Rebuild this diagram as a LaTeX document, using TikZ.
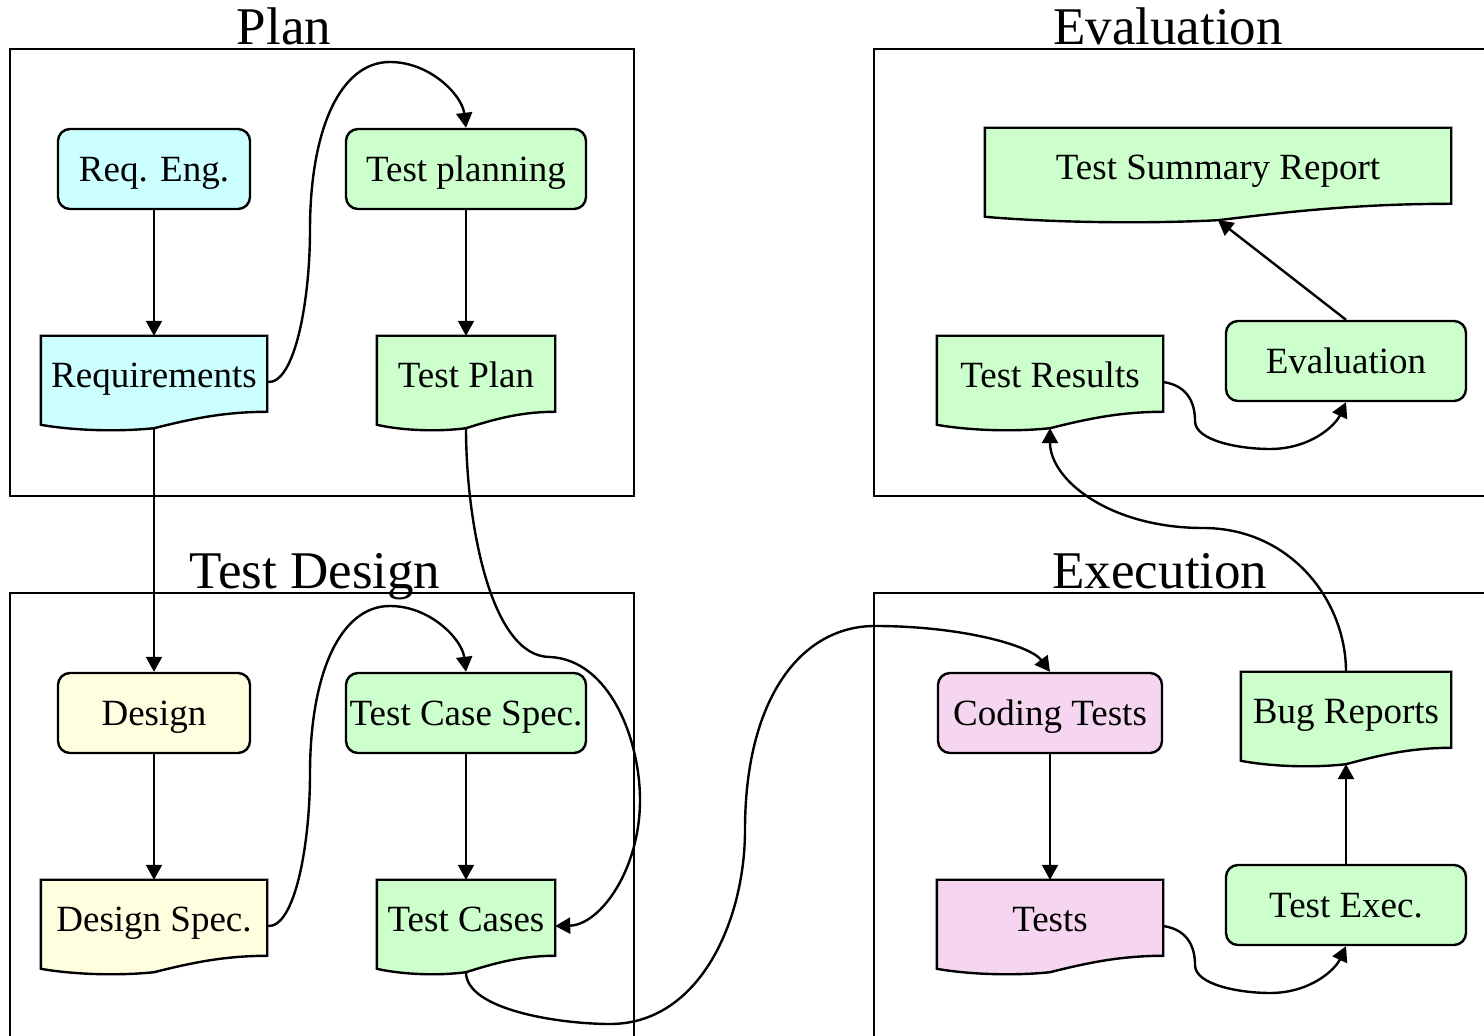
\documentclass[tikz,border=0pt]{standalone}
\usepackage{fontspec}
\setmainfont{Liberation Serif}
\usetikzlibrary{arrows.meta,calc,backgrounds}
\definecolor{reqcol}{HTML}{CCFFFF}
\definecolor{testcol}{HTML}{CCFFCC}
\definecolor{descol}{HTML}{FFFFE0}
\definecolor{codecol}{HTML}{F5D5EF}

\begin{document}
\begin{tikzpicture}[>={Triangle[length=7.5pt,width=8pt]},x=0.5pt,y=-0.5pt,
                    line width=1.2pt,node distance=106.5pt,
                    font=\fontsize{18.5}{22}\selectfont]
  \tikzstyle{task}=[draw,rounded corners=6pt,minimum width=120pt,
                    minimum height=40pt,inner sep=0pt,
                    text height=17pt,text depth=4pt]
  \tikzstyle{docu}=[minimum width=112pt,minimum height=45pt,inner sep=0pt,
                    text height=13pt,text depth=7pt]
  \tikzstyle{cluster}=[draw,inner sep=0pt]
  \tikzstyle{title}=[anchor=base,font=\fontsize{26.5}{30}\selectfont]

  \useasboundingbox (0,0) rectangle (1484,1036);

  % the four phases
  \node[cluster,minimum width=312pt,minimum height=223.5pt] (plan) at (322,272.5) {};
  \node[cluster,minimum width=313pt,minimum height=223.5pt] (eval) at (1187,272.5) {};
  \node[cluster,minimum width=312pt,minimum height=228.5pt] (desg) at (322,821.5) {};
  \node[cluster,minimum width=313pt,minimum height=228.5pt] (exec) at (1187,821.5) {};
  \node[title] (lplan) at (284,45) {Plan};
  \node[title] (leval) at (1168,45) {Evaluation};
  \node[title] (ldesg) at (315,589) {Test Design};
  \node[title] (lexec) at (1160,589) {Execution};

  % Plan
  \node[task,fill=reqcol,minimum width=96pt] (re) at (154,169) {Req. Eng.};
  \node[docu] (rq) [below of=re] {Requirements};
  \node[task,fill=testcol] (tpl) at (466,169) {Test planning};
  \node[docu,minimum width=88pt] (tp) [below of=tpl] {Test Plan};

  % Test Design
  \node[task,fill=descol,minimum width=96pt] (de) at (154,713) {Design};
  \node[docu] (ds) [below of=de] {Design Spec.};
  \node[task,fill=testcol] (tcs) at (466,713) {Test Case Spec.};
  \node[docu,minimum width=88pt] (tc) [below of=tcs] {Test Cases};

  % Execution
  \node[task,fill=codecol,minimum width=112pt] (ct) at (1050,713) {Coding Tests};
  \node[docu] (ts) [below of=ct] {Tests};
  \node[task,fill=testcol] (tx) at (1346,905) {Test Exec.};
  \node[docu,minimum width=104pt] (br) at (1346,718) {Bug Reports};

  % Evaluation
  \node[docu] (tr) at (1050,382) {Test Results};
  \node[task,fill=testcol] (ev) at (1346,361) {Evaluation};
  \node[docu,minimum width=232pt] (tsr) at (1218,174) {Test Summary Report};

  % document outlines with the wavy bottom
  \begin{scope}[on background layer]
    \foreach \n/\c in {rq/reqcol,tp/testcol,ds/descol,tc/testcol,
                       ts/codecol,br/testcol,tr/testcol,tsr/testcol}
      \filldraw[fill=\c,draw=black,line width=1.2pt]
        (\n.north west) -- (\n.north east)
        -- ([yshift=-38pt]\n.north east)
        .. controls ($(\n.north west)!.8!(\n.north east)+(0pt,-38pt)$)
               and ($(\n.north west)!.65!(\n.north east)+(0pt,-42pt)$) .. (\n.south)
        .. controls ($(\n.north west)!.35!(\n.north east)+(0pt,-48pt)$)
               and ($(\n.north west)!.15!(\n.north east)+(0pt,-47.5pt)$)
        .. ([yshift=-44.5pt]\n.north west) -- cycle;
  \end{scope}

  \draw
        (re) edge[->] (rq)
        (tpl) edge[->] (tp)
        (rq) edge[->] (de)
        (de) edge[->] (ds)
        (tcs) edge[->] (tc)
        (ct) edge[->] (ts)
        (tx) edge[->] (br)
        (ev.north) edge[->] (tsr.south);
  \draw[->] (rq.east) .. controls (295,385) and (310,300) .. (310,230)
        .. controls (310,130) and (340,62) .. (390,62)
        .. controls (430,62) and (462,95) .. (tpl.north);
  \draw[->] (ds.east) .. controls (295,929) and (310,844) .. (310,774)
        .. controls (310,674) and (340,606) .. (390,606)
        .. controls (430,606) and (462,639) .. (tcs.north);
  \draw[->] (tp.south) .. controls (466,520) and (490,657) .. (550,657)
        .. controls (610,660) and (640,740) .. (640,800)
        .. controls (640,870) and (600,925) .. (tc.east);
  \draw[->] (tc.south) .. controls (466,1010) and (560,1024) .. (610,1024)
        .. controls (700,1024) and (745,920) .. (745,830)
        .. controls (745,700) and (800,626) .. (875,626)
        .. controls (960,626) and (1030,645) .. (ct.north);
  \draw[->] (ts.east) .. controls (1190,930) and (1195,950) .. (1195,965)
        .. controls (1195,985) and (1240,993) .. (1270,993)
        .. controls (1310,993) and (1335,970) .. (tx.south);
  \draw[->] (tr.east) .. controls (1190,386) and (1195,406) .. (1195,421)
        .. controls (1195,441) and (1240,449) .. (1270,449)
        .. controls (1310,449) and (1335,426) .. (ev.south);
  \draw[->] (br.north) .. controls (1346,600) and (1290,528) .. (1203,528)
        .. controls (1110,528) and (1050,480) .. (tr.south);
\end{tikzpicture}
\end{document}
